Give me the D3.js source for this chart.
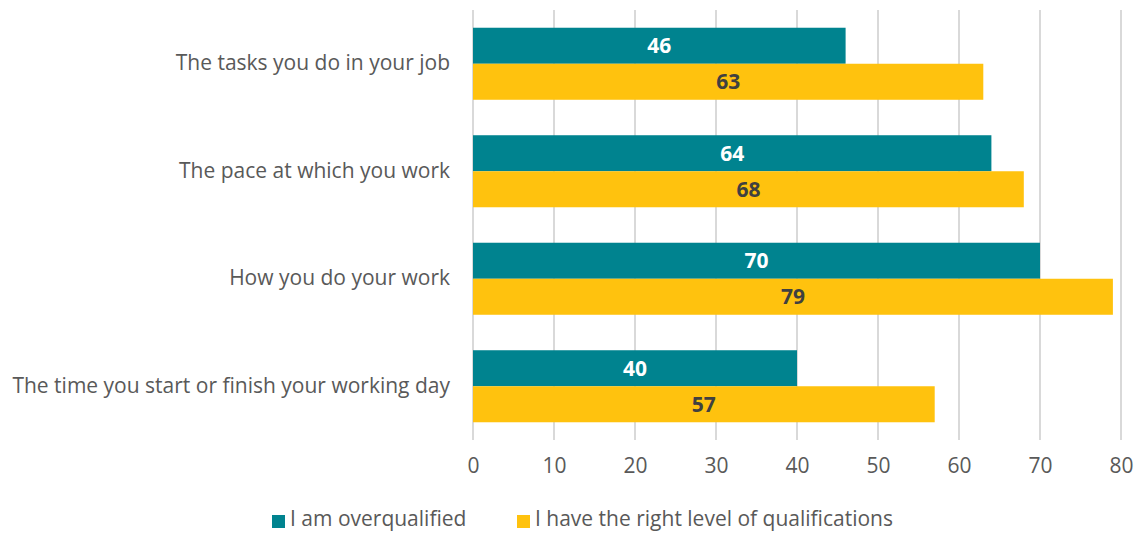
<!DOCTYPE html>
<html>
<head>
<meta charset="utf-8">
<script src="https://cdn.jsdelivr.net/npm/d3@7"></script>
<style>
  body { margin: 0; background: #fff; }
  svg { display: block; }
  text { font-family: "Open Sans", sans-serif; }
</style>
</head>
<body>
<svg id="chart" width="1134" height="533"></svg>
<script>
const categories = [
  "The tasks you do in your job",
  "The pace at which you work",
  "How you do your work",
  "The time you start or finish your working day"
];
const seriesNames = ["I am overqualified", "I have the right level of qualifications"];
const overqualified = [46, 64, 70, 40];
const rightLevel = [63, 68, 79, 57];
const xTicks = [0, 10, 20, 30, 40, 50, 60, 70, 80];
const colors = ["#00838F", "#FFC20E"];
const labelColors = ["#ffffff", "#404040"];

const svg = d3.select("#chart");
const margin = { left: 473, right: 13, top: 10, bottom: 93 };
const W = 1134, H = 533;
const FONT = "'Open Sans', sans-serif";
const FS = 21;

const x = d3.scaleLinear().domain([0, 80]).range([margin.left, W - margin.right]);
const y = d3.scaleBand().domain(categories).range([margin.top, H - margin.bottom]).paddingInner(0.33).paddingOuter(0.165);
const ySub = d3.scaleBand().domain([0, 1]).range([0, y.bandwidth()]);

// vertical gridlines
svg.append("g").selectAll("line").data(xTicks).join("line")
  .attr("x1", d => x(d)).attr("x2", d => x(d))
  .attr("y1", margin.top).attr("y2", H - margin.bottom)
  .attr("stroke", "#d9d9d9").attr("stroke-width", 2);

// x axis tick labels
const xAxis = d3.axisBottom(x).tickValues(xTicks).tickSize(0).tickPadding(18);
const gx = svg.append("g").attr("transform", `translate(0,${H - margin.bottom})`).call(xAxis);
gx.select(".domain").remove();
gx.selectAll("text").attr("font-size", FS).attr("fill", "#595959").attr("font-family", FONT);

// category labels
const yAxis = d3.axisLeft(y).tickSize(0).tickPadding(23);
const gy = svg.append("g").attr("transform", `translate(${margin.left},0)`).call(yAxis);
gy.select(".domain").remove();
gy.selectAll("text").attr("font-size", FS).attr("fill", "#595959").attr("font-family", FONT);

const rows = categories.map((c, i) => ({ c, vals: [overqualified[i], rightLevel[i]] }));

const groups = svg.append("g").selectAll("g").data(rows).join("g")
  .attr("transform", d => `translate(0,${y(d.c)})`);

groups.selectAll("rect").data(d => d.vals.map((v, k) => ({ v, k }))).join("rect")
  .attr("x", x(0))
  .attr("y", d => ySub(d.k))
  .attr("width", d => x(d.v) - x(0))
  .attr("height", ySub.bandwidth())
  .attr("fill", d => colors[d.k]);

groups.selectAll("text.val").data(d => d.vals.map((v, k) => ({ v, k }))).join("text")
  .attr("class", "val")
  .attr("x", d => (x(0) + x(d.v)) / 2)
  .attr("y", d => ySub(d.k) + ySub.bandwidth() / 2)
  .attr("dy", "0.35em")
  .attr("text-anchor", "middle")
  .attr("font-size", FS)
  .attr("font-weight", "bold")
  .attr("fill", d => labelColors[d.k])
  .text(d => d.v);

// legend
const legend = svg.append("g").attr("transform", "translate(0,519)");
const legendX = [272, 517];
seriesNames.forEach((name, i) => {
  legend.append("rect").attr("x", legendX[i]).attr("y", -4).attr("width", 13).attr("height", 13).attr("fill", colors[i]);
  legend.append("text").attr("x", legendX[i] + 18).attr("y", 0).attr("dy", "0.35em")
    .attr("font-size", FS).attr("fill", "#595959").text(name);
});
</script>
</body>
</html>
